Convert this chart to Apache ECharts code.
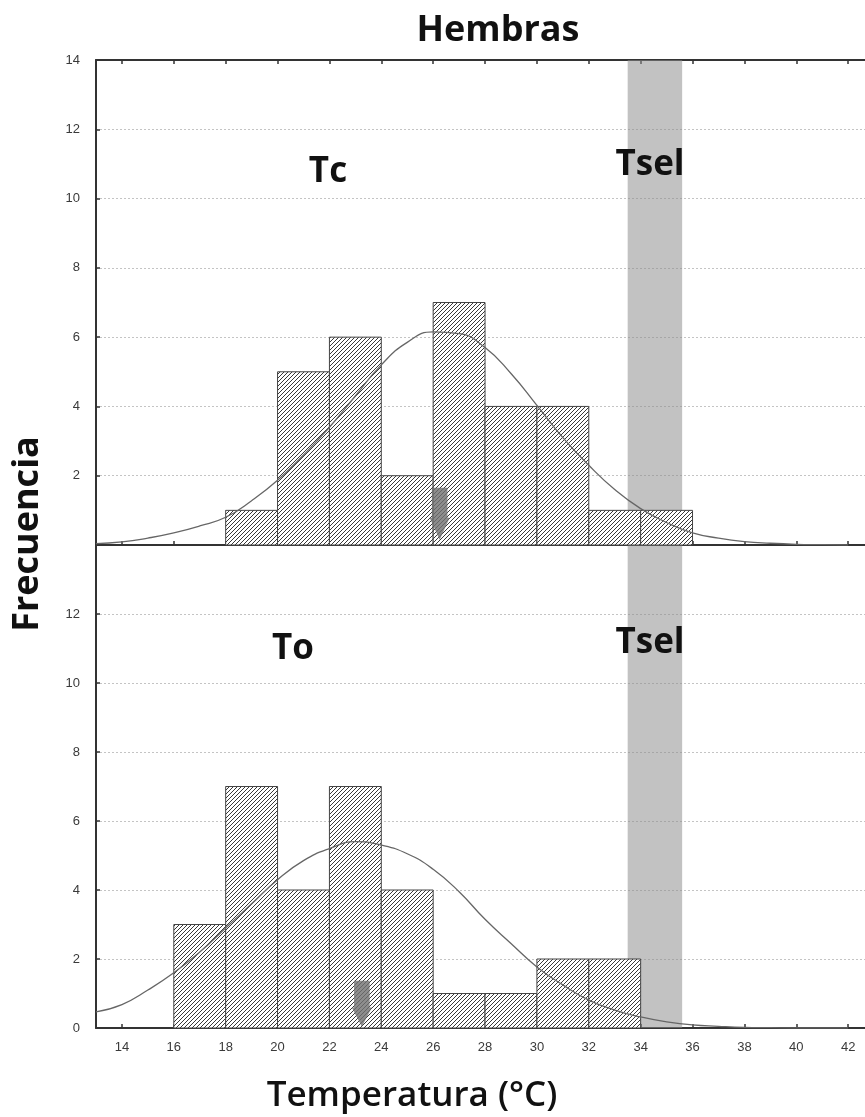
<!DOCTYPE html>
<html>
<head>
<meta charset="utf-8">
<script src="https://cdn.jsdelivr.net/npm/echarts@6/dist/echarts.min.js"></script>
<style>
html,body{margin:0;padding:0;background:#fff;}
#chart{width:865px;height:1117px;}
</style>
</head>
<body>
<div id="chart"></div>
<script>
// ---- data ----
const binWidth = 2;
const tcStarts = [18, 20, 22, 24, 26, 28, 30, 32, 34];
const tcCounts = [1, 5, 6, 2, 7, 4, 4, 1, 1];
const toStarts = [16, 18, 20, 22, 24, 26, 28, 30, 32];
const toCounts = [3, 7, 4, 7, 4, 1, 1, 2, 2];
const curveX  = [13,14,15,16,17,18,19,20,21,22,23,24,25,26,27,28,29,30,31,32,33,34,35,36,37,38,39,40,41,42];
const tcCurve = [0.04,0.09,0.2,0.35,0.55,0.8,1.28,1.87,2.6,3.4,4.3,5.2,5.85,6.15,6.1,5.7,4.95,4.03,3.1,2.3,1.6,1.05,0.65,0.35,0.2,0.1,0.05,0.02,0.01,0];
const toCurve = [0.47,0.68,1.1,1.6,2.2,2.9,3.6,4.3,4.85,5.2,5.4,5.3,5.05,4.6,3.95,3.15,2.45,1.77,1.25,0.81,0.52,0.32,0.18,0.09,0.05,0.02,0.01,0,0,0];
const xTicks = [14,16,18,20,22,24,26,28,30,32,34,36,38,40,42];
const xMin = 13, xMax = 42.65;
const tselRange = [33.5, 35.6];
const tcArrow = [26.25, 0.9];
const toArrow = [23.25, 0.7];

// ---- hatch pattern ----
const pc = document.createElement('canvas');
pc.width = 4; pc.height = 4;
const g = pc.getContext('2d');
g.fillStyle = '#fff'; g.fillRect(0,0,4,4);
g.strokeStyle = '#383838'; g.lineWidth = 1;
g.beginPath();
g.moveTo(0,4); g.lineTo(4,0);
g.moveTo(-1,1); g.lineTo(1,-1);
g.moveTo(3,5); g.lineTo(5,3);
g.stroke();
const hatch = {image: pc, repeat: 'repeat'};

function hist(starts, counts){ return starts.map((s,i)=>[s, s+binWidth, counts[i]]); }
function pairs(xs, ys){ return xs.map((x,i)=>[x, ys[i]]); }

function renderBar(params, api){
  const p0 = api.coord([api.value(0), 0]);
  const p1 = api.coord([api.value(1), api.value(2)]);
  return {
    type: 'rect',
    shape: {x: p0[0], y: p1[1], width: p1[0]-p0[0], height: p0[1]-p1[1]},
    style: {fill: hatch, stroke: '#444', lineWidth: 1}
  };
}

const axisLineStyle = {color: '#333', width: 2};
function xAx(grid, pos, labels){
  return {
    type: 'value', gridIndex: grid, position: pos, min: xMin, max: xMax,
    axisLine: {show: true, onZero: false, lineStyle: axisLineStyle},
    axisTick: {show: true, inside: true, length: 4, customValues: xTicks, lineStyle: {color: '#333', width: 1.5}},
    axisLabel: labels ? {show: true, customValues: xTicks, color: '#3a3a3a', fontSize: 13, fontFamily: 'Liberation Sans', margin: 13} : {show: false},
    splitLine: {show: false}
  };
}
function yAx(grid, hideMin, hideMax){
  return {
    type: 'value', gridIndex: grid, min: 0, max: 14, interval: 2,
    axisLine: {show: true, onZero: false, lineStyle: axisLineStyle},
    axisTick: {show: true, inside: true, length: 4, lineStyle: {color: '#333', width: 1.5}},
    axisLabel: {color: '#3a3a3a', fontSize: 13, fontFamily: 'Liberation Sans', margin: 16, showMinLabel: !hideMin, showMaxLabel: !hideMax},
    splitLine: {show: true, lineStyle: {color: '#c4c4c4', type: [2, 2], width: 1}}
  };
}
const arrowPath = 'path://M2,0 L16,0 L16,30 L18,30 L9,52 L0,30 L2,30 Z';

const chart = echarts.init(document.getElementById('chart'), null, {renderer: 'canvas'});
chart.setOption({
  animation: false,
  backgroundColor: '#fff',
  grid: [
    {left: 96, top: 60, right: 0, height: 485},
    {left: 96, top: 545, right: 0, height: 483}
  ],
  xAxis: [xAx(0, 'bottom', false), xAx(0, 'top', false), xAx(1, 'bottom', true)],
  yAxis: [yAx(0, true, false), yAx(1, false, true)],
  series: [
    {type: 'custom', xAxisIndex: 0, yAxisIndex: 0, z: 2, renderItem: renderBar, data: hist(tcStarts, tcCounts), silent: true},
    {type: 'custom', xAxisIndex: 2, yAxisIndex: 1, z: 2, renderItem: renderBar, data: hist(toStarts, toCounts), silent: true},
    {type: 'line', xAxisIndex: 0, yAxisIndex: 0, z: 3, data: [], silent: true,
      markArea: {silent: true, itemStyle: {color: 'rgba(140,140,140,0.53)'}, data: [[{xAxis: tselRange[0]}, {xAxis: tselRange[1]}]]}},
    {type: 'line', xAxisIndex: 2, yAxisIndex: 1, z: 3, data: [], silent: true,
      markArea: {silent: true, itemStyle: {color: 'rgba(140,140,140,0.53)'}, data: [[{xAxis: tselRange[0]}, {xAxis: tselRange[1]}]]}},
    {type: 'line', xAxisIndex: 0, yAxisIndex: 0, z: 4, smooth: true, showSymbol: false, silent: true,
      lineStyle: {color: '#666', width: 1.3}, data: pairs(curveX, tcCurve)},
    {type: 'line', xAxisIndex: 2, yAxisIndex: 1, z: 4, smooth: true, showSymbol: false, silent: true,
      lineStyle: {color: '#666', width: 1.3}, data: pairs(curveX, toCurve)},
    {type: 'scatter', xAxisIndex: 0, yAxisIndex: 0, z: 5, symbol: arrowPath, symbolSize: [20, 52], symbolKeepAspect: false,
      itemStyle: {color: '#707070'}, data: [tcArrow], silent: true},
    {type: 'scatter', xAxisIndex: 2, yAxisIndex: 1, z: 5, symbol: arrowPath, symbolSize: [20, 46], symbolKeepAspect: false,
      itemStyle: {color: '#707070'}, data: [toArrow], silent: true}
  ],
  graphic: [
    {type: 'text', z: 10, style: {text: 'Hembras', x: 498, y: 31, align: 'center', verticalAlign: 'middle', font: 'bold 36px "Open Sans"', fill: '#111'}},
    {type: 'text', z: 10, style: {text: 'Tc', x: 328, y: 172, align: 'center', verticalAlign: 'middle', font: 'bold 35px "Open Sans"', fill: '#111'}},
    {type: 'text', z: 10, style: {text: 'Tsel', x: 650, y: 165, align: 'center', verticalAlign: 'middle', font: 'bold 35px "Open Sans"', fill: '#111'}},
    {type: 'text', z: 10, style: {text: 'To', x: 293, y: 649, align: 'center', verticalAlign: 'middle', font: 'bold 35px "Open Sans"', fill: '#111'}},
    {type: 'text', z: 10, style: {text: 'Tsel', x: 650, y: 643, align: 'center', verticalAlign: 'middle', font: 'bold 35px "Open Sans"', fill: '#111'}},
    {type: 'text', z: 10, x: 28, y: 534, rotation: Math.PI/2, style: {text: 'Frecuencia', x: 0, y: 0, align: 'center', verticalAlign: 'middle', font: 'bold 36px "Open Sans"', fill: '#111'}},
    {type: 'text', z: 10, style: {text: 'Temperatura (°C)', x: 412, y: 1096, align: 'center', verticalAlign: 'middle', font: '600 35px "Open Sans"', fill: '#111'}}
  ]
});
</script>
</body>
</html>
